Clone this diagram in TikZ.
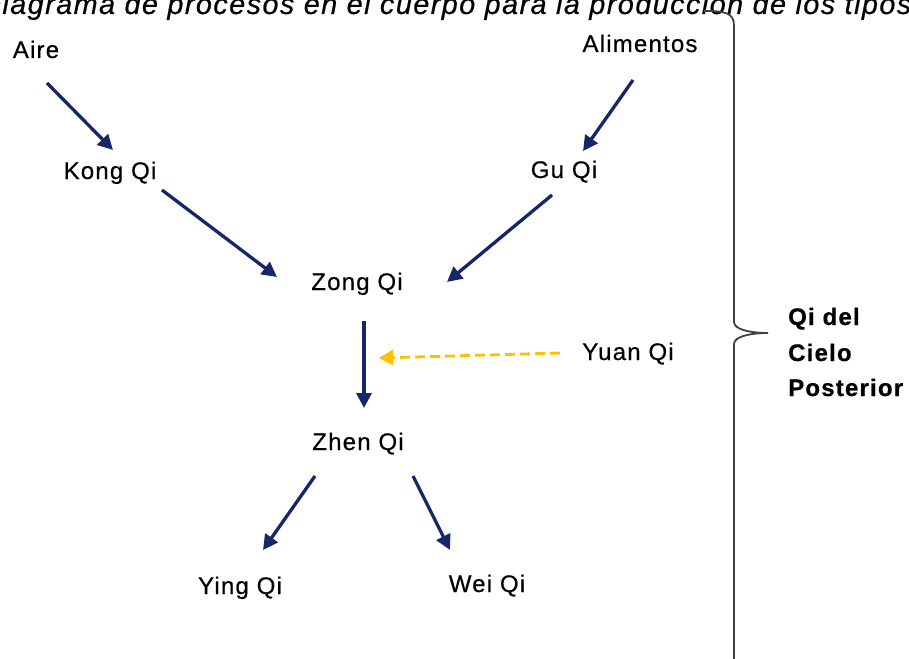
\documentclass[tikz,border=0pt]{standalone}
\usepackage{fontspec}
\setmainfont{Liberation Sans}
\newfontfamily\lab[LetterSpace=5,FakeBold=0.5]{Liberation Sans}
\usetikzlibrary{arrows.meta}
\definecolor{navy}{RGB}{22,38,104}
\definecolor{gold}{RGB}{255,192,0}
\begin{document}
\begin{tikzpicture}[x=1pt,y=-1pt,
  lbl/.style={font=\lab\fontsize{24}{28}\selectfont, inner sep=0pt, anchor=base},
  brl/.style={font=\lab\bfseries\fontsize{24}{28}\selectfont, inner sep=0pt, anchor=base west},
  ttl/.style={font=\lab\itshape\fontsize{28.8}{32}\selectfont, inner sep=0pt, anchor=base west},
  flow/.style={draw=navy, line width=3.3pt, -{Triangle[length=15pt,width=15pt]}},
  feed/.style={draw=gold, line width=2.8pt, dash pattern=on 10pt off 5pt, -{Triangle[length=14pt,width=15pt]}},
  bracestyle/.style={draw=black!75, line width=1.8pt}]
\useasboundingbox (0,0) rectangle (909,658);
\clip (0,0) rectangle (909,658);

\node[ttl] (title) at (-20,14) {Diagrama de procesos en el cuerpo para la producción de los tipos de Qi};

\node[lbl] (aire) at (36,58) {Aire};
\node[lbl] (alim) at (640,52) {Alimentos};
\node[lbl] (kong) at (110,179) {Kong Qi};
\node[lbl] (gu) at (564,178) {Gu Qi};
\node[lbl] (zong) at (357,290) {Zong Qi};
\node[lbl] (yuan) at (628,360) {Yuan Qi};
\node[lbl] (zhen) at (358,450) {Zhen Qi};
\node[lbl] (ying) at (240,594) {Ying Qi};
\node[lbl] (wei) at (487,592) {Wei Qi};

\node[brl] (post1) at (788,325) {Qi del};
\node[brl] (post2) at (788,361) {Cielo};
\node[brl] (post3) at (788,396) {Posterior};

\coordinate (join) at (379,358);

\draw[flow] ([shift={(11,25)}]aire.base) -- ([shift={(3,-29)}]kong.base);
\draw[flow] ([shift={(-7,28)}]alim.base) -- ([shift={(19,-27)}]gu.base);
\draw[flow] ([shift={(52,11)}]kong.base) -- ([shift={(-80,-13)}]zong.base);
\draw[flow] ([shift={(-12,17)}]gu.base) -- ([shift={(90,-8)}]zong.base);
\draw[flow] ([shift={(7,31)}]zong.base) -- ([shift={(6,-42)}]zhen.base);
\draw[feed] ([shift={(-68,-7)}]yuan.base) -- (join);
\draw[flow] ([shift={(-43,26)}]zhen.base) -- ([shift={(23,-44)}]ying.base);
\draw[flow] ([shift={(55,26)}]zhen.base) -- ([shift={(-37,-42)}]wei.base);

\coordinate (bracetip) at (768,333);
\draw[bracestyle] (704,11) .. controls (726,11) and (734,13) .. (734,26) -- (734,322)
  .. controls (734,330) and (752,333) .. (bracetip)
  .. controls (752,333) and (734,336) .. (734,344) -- (734,670);
\end{tikzpicture}
\end{document}
